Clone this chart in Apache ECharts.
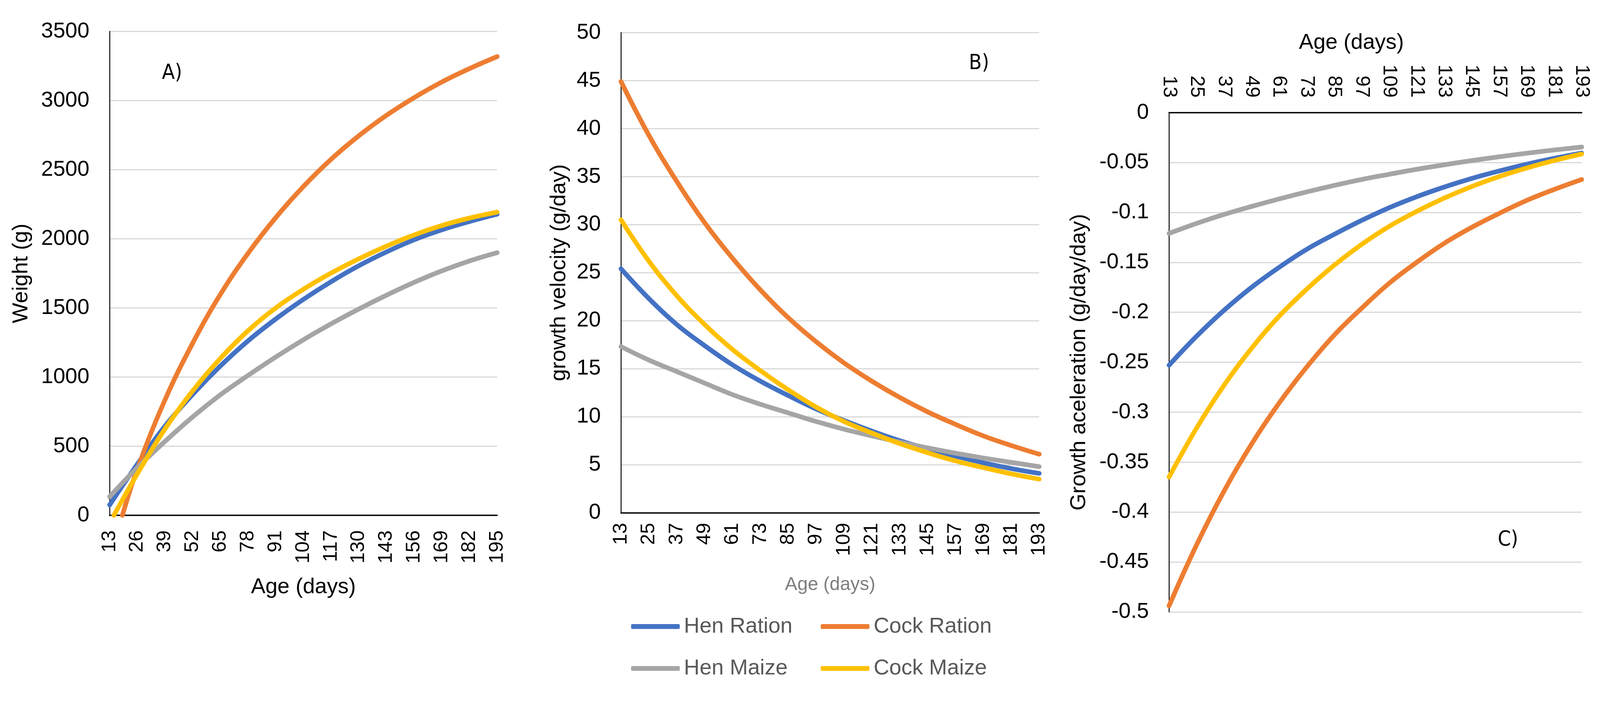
<!DOCTYPE html>
<html>
<head>
<meta charset="utf-8">
<script src="https://cdn.jsdelivr.net/npm/echarts@6/dist/echarts.min.js"></script>
<style>
html,body{margin:0;padding:0;background:#fff;overflow:hidden;}
#c{width:100vw;height:100vh;}
</style>
</head>
<body>
<div id="c"></div>
<script>
// ---------- Panel A: Weight (g) ----------
const daysA = [13,26,39,52,65,78,91,104,117,130,143,156,169,182,195];
const ticksA = [13,26,39,52,65,78,91,104,117,130,143,156,169,182,195];
const henRationW  = [75,370,645,875,1080,1262,1420,1562,1690,1805,1905,1993,2065,2125,2178];
const henMaizeW   = [135,345,535,712,872,1012,1145,1270,1385,1492,1592,1685,1768,1840,1900];
const cockRationDaysA = [19,26,39,52,65,78,91,104,117,130,143,156,169,182,195];
const cockRationW = [0,335,835,1245,1598,1895,2153,2378,2575,2745,2893,3021,3134,3231,3318];
const cockMaizeDaysA = [15,26,39,52,65,78,91,104,117,130,143,156,169,182,195];
const cockMaizeW  = [0,300,625,900,1135,1335,1500,1635,1752,1855,1947,2028,2096,2150,2193];

// ---------- Panel B: growth velocity (g/day) ----------
const daysB = [13,25,37,49,61,73,85,97,109,121,133,145,157,169,181,193];
const ticksB = [13,25,37,49,61,73,85,97,109,121,133,145,157,169,181,193];
const henRationV  = [25.4,22.3,19.6,17.4,15.4,13.7,12.2,10.8,9.6,8.5,7.5,6.65,5.9,5.2,4.6,4.1];
const cockRationV = [44.9,39.3,34.5,30.2,26.5,23.2,20.3,17.8,15.6,13.7,12.0,10.5,9.2,8.0,7.0,6.1];
const henMaizeV   = [17.3,15.9,14.7,13.5,12.3,11.3,10.4,9.5,8.7,8.0,7.35,6.75,6.2,5.7,5.25,4.8];
const cockMaizeV  = [30.5,26.2,22.6,19.6,17.0,14.8,12.8,11.0,9.5,8.3,7.2,6.25,5.4,4.7,4.05,3.5];

// ---------- Panel C: growth acceleration (g/day/day) ----------
const daysC = [13,25,37,49,61,73,85,97,109,121,133,145,157,169,181,193];
const ticksC = [13,25,37,49,61,73,85,97,109,121,133,145,157,169,181,193];
const henRationA  = [-0.253,-0.224,-0.198,-0.175,-0.155,-0.137,-0.122,-0.108,-0.0953,-0.0843,-0.0746,-0.066,-0.0585,-0.0517,-0.0458,-0.0405];
const cockRationA = [-0.494,-0.433,-0.379,-0.332,-0.291,-0.255,-0.223,-0.196,-0.171,-0.150,-0.131,-0.115,-0.101,-0.088,-0.077,-0.067];
const henMaizeA   = [-0.121,-0.111,-0.102,-0.094,-0.0865,-0.0795,-0.073,-0.067,-0.0618,-0.0568,-0.0523,-0.0481,-0.0443,-0.0407,-0.0375,-0.0345];
const cockMaizeA  = [-0.365,-0.316,-0.273,-0.236,-0.204,-0.177,-0.153,-0.132,-0.114,-0.099,-0.0857,-0.0741,-0.0641,-0.0555,-0.048,-0.0415];

const colors = {'Hen Ration':'#4472C4','Cock Ration':'#ED7D31','Hen Maize':'#A5A5A5','Cock Maize':'#FFC000'};
const FONT = '"Liberation Sans", Arial, sans-serif';
const NARROW = '"Liberation Sans Narrow", "DejaVu Sans Condensed", sans-serif';

// layout is designed for a 4277 x 1859 canvas; scale to the real viewport
const S = Math.min(window.innerWidth / 4277, window.innerHeight / 1859);
function p(v){ return v * S; }

function line(name, idx, days, vals){
  return {
    type:'line', name:name, xAxisIndex:idx, yAxisIndex:idx,
    data: days.map((d,k)=>[d, vals[k]]),
    symbol:'none', showSymbol:false, smooth:0.4,
    clip:true, silent:true,
    lineStyle:{width:p(12.5), color:colors[name], cap:'round', join:'round'},
    itemStyle:{color:colors[name]}
  };
}

function xAxis(idx, min, max, ticks, opts){
  return Object.assign({
    type:'value', gridIndex:idx, min:min, max:max,
    axisLine:{show:true, onZero:false, lineStyle:{color:'#000', width:p(3.5)}},
    axisTick:{show:false, customValues:ticks},
    splitLine:{show:false},
    axisLabel:{customValues:ticks, rotate:90, fontSize:p(53), color:'#000', fontFamily:FONT, margin:p(40)},
    nameLocation:'middle',
    nameTextStyle:{fontSize:p(58), color:'#000', fontFamily:FONT}
  }, opts);
}

function yAxis(idx, min, max, interval, name, gap){
  return {
    type:'value', gridIndex:idx, min:min, max:max, interval:interval,
    axisLine:{show:true, onZero:false, lineStyle:{color:'#000', width:p(2.5)}},
    axisTick:{show:false},
    splitLine:{show:true, lineStyle:{color:'#D9D9D9', width:p(3)}},
    axisLabel:{fontSize:p(58), color:'#000', fontFamily:FONT, margin:p(54),
      formatter:function(v){ return String(+v.toFixed(4)); }},
    name:name, nameLocation:'middle', nameGap:p(gap),
    nameTextStyle:{fontSize:p(58), color:'#000', fontFamily:FONT}
  };
}

function legendItem(name, left, top){
  return {
    data:[name], left:p(left), top:p(top),
    icon:'roundRect', itemWidth:p(130), itemHeight:p(13), itemGap:0, padding:0,
    selectedMode:false,
    textStyle:{fontSize:p(58), color:'#595959', fontFamily:FONT, padding:[0,0,0,p(6)]}
  };
}

function label(text, x, y){
  return {type:'text', style:{text:text, x:p(x), y:p(y), align:'center', verticalAlign:'middle',
    fontSize:p(56), fontFamily:NARROW, fill:'#000'}};
}

const option = {
  backgroundColor:'#ffffff',
  animation:false,
  grid:[
    {left:p(293), top:p(84), width:p(1036), height:p(1294)},
    {left:p(1660), top:p(87), width:p(1118), height:p(1284)},
    {left:p(3125), top:p(301), width:p(1103), height:p(1335)}
  ],
  xAxis:[
    xAxis(0, 13, 195, ticksA, {name:'Age (days)', nameGap:p(163)}),
    xAxis(1, 13, 193, ticksB, {name:'Age (days)', nameGap:p(168),
      nameTextStyle:{fontSize:p(50), color:'#7F7F7F', fontFamily:FONT},
      axisLabel:{customValues:ticksB, rotate:90, fontSize:p(53), color:'#000', fontFamily:FONT, margin:p(27)}}),
    xAxis(2, 13, 193, ticksC, {name:'Age (days)', nameGap:p(157), position:'top',
      nameTextStyle:{fontSize:p(58), color:'#000', fontFamily:FONT, padding:[0,p(128),0,0]}})
  ],
  yAxis:[
    yAxis(0, 0, 3500, 500, 'Weight (g)', 207),
    yAxis(1, 0, 50, 5, 'growth velocity (g/day)', 136),
    yAxis(2, -0.5, 0, 0.05, 'Growth aceleration (g/day/day)', 211)
  ],
  legend:[
    legendItem('Hen Ration', 1687, 1646),
    legendItem('Cock Ration', 2194, 1646),
    legendItem('Hen Maize', 1687, 1758),
    legendItem('Cock Maize', 2194, 1758)
  ],
  graphic:[
    label('A)', 460, 196),
    label('B)', 2617, 170),
    label('C)', 4031, 1444)
  ],
  series:[
    line('Hen Ration', 0, daysA, henRationW),
    line('Cock Ration', 0, cockRationDaysA, cockRationW),
    line('Hen Maize', 0, daysA, henMaizeW),
    line('Cock Maize', 0, cockMaizeDaysA, cockMaizeW),
    line('Hen Ration', 1, daysB, henRationV),
    line('Cock Ration', 1, daysB, cockRationV),
    line('Hen Maize', 1, daysB, henMaizeV),
    line('Cock Maize', 1, daysB, cockMaizeV),
    line('Hen Ration', 2, daysC, henRationA),
    line('Cock Ration', 2, daysC, cockRationA),
    line('Hen Maize', 2, daysC, henMaizeA),
    line('Cock Maize', 2, daysC, cockMaizeA)
  ]
};

const chart = echarts.init(document.getElementById('c'));
chart.setOption(option);
window.addEventListener('resize', function(){ chart.resize(); });
</script>
</body>
</html>
